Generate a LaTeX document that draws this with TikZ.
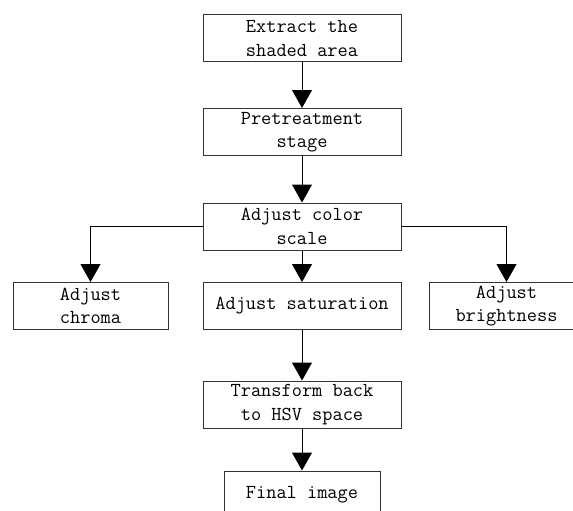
\documentclass[tikz,border=0pt]{standalone}
\usepackage{fontspec}
\usetikzlibrary{arrows.meta}
\tikzset{
  stagebox/.style={draw=black!80,line width=1pt,rectangle,inner sep=0pt,
    minimum height=47pt,align=center,
    font=\ttfamily\fontsize{19.8}{23.5}\selectfont},
  flow/.style={line width=1pt,-{Triangle[width=20pt,length=18pt]}}
}
\begin{document}
\begin{tikzpicture}[x=1pt,y=-1pt]
\useasboundingbox (0,0) rectangle (573,511);
% main column
\node[stagebox,minimum width=198pt] (extract) at (302,38.5) {Extract the\\shaded area};
\node[stagebox,minimum width=198pt] (pre) at (302,132) {Pretreatment\\stage};
\node[stagebox,minimum width=198pt] (color) at (302,226.5) {Adjust color\\scale};
% the three adjustments
\node[stagebox,minimum width=155pt] (chroma) at (90.5,306) {Adjust\\chroma};
\node[stagebox,minimum width=198pt] (satur) at (302,306) {Adjust saturation};
\node[stagebox,minimum width=155pt] (bright) at (506.5,306) {Adjust\\brightness};
% back to HSV
\node[stagebox,minimum width=198pt] (trans) at (302,404.5) {Transform back\\to HSV space};
\node[stagebox,minimum width=156pt] (final) at (302,494.5) {Final image};
\draw[flow] (extract) -- (pre);
\draw[flow] (pre) -- (color);
\draw[flow] (color.west) -| (chroma.north);
\draw[flow] (color) -- (satur);
\draw[flow] (color.east) -| (bright.north);
\draw[flow] (satur) -- (trans);
\draw[flow] (trans) -- (final);
\end{tikzpicture}
\end{document}
